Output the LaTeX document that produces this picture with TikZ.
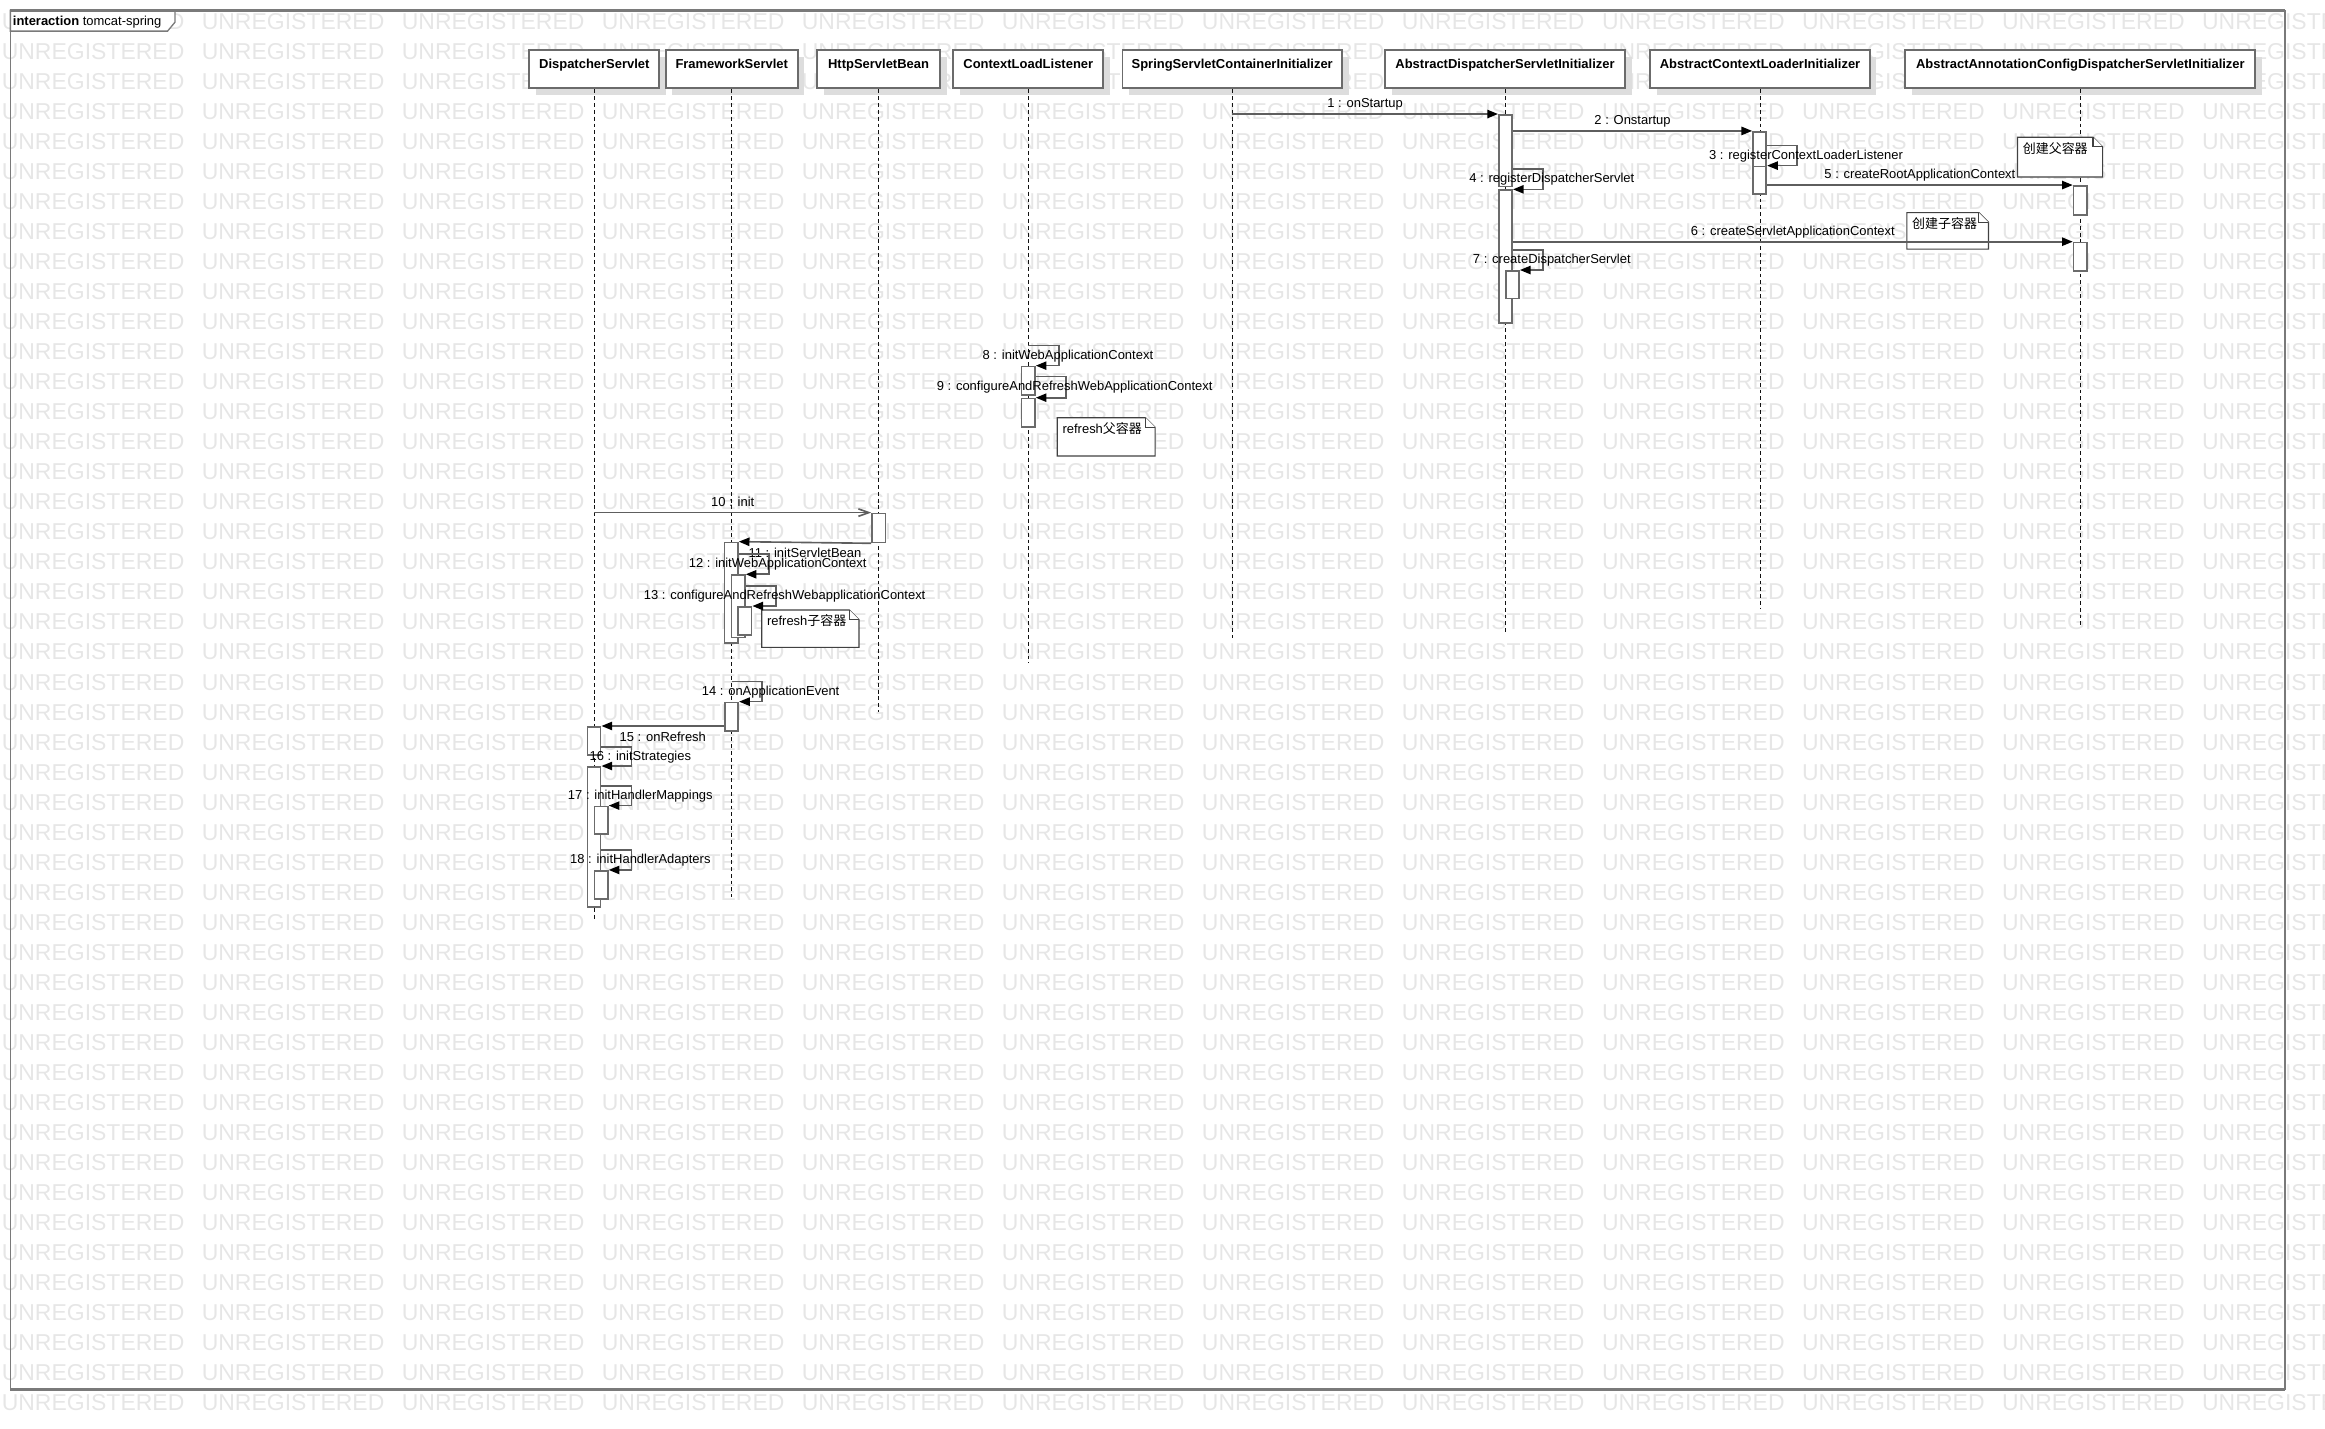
\documentclass[tikz,border=0pt]{standalone}
\usepackage{fontspec}
\setmainfont{Liberation Sans}
\newfontfamily\cjk{Noto Sans CJK SC}
\newfontfamily\wmfont{Liberation Sans}
\usetikzlibrary{arrows.meta,calc,shadows}
\definecolor{Ink}{HTML}{111111}
\definecolor{Edge}{HTML}{6B6B6B}
\definecolor{Wire}{HTML}{5E5E5E}
\definecolor{Wmark}{HTML}{E6E6E6}
\definecolor{Shade}{HTML}{DDDDDD}
\definecolor{FrameGray}{HTML}{7A7A7A}

% note with folded corner: name, x1, y1, x2, y2, text
\newcommand{\umlnote}[6]{%
  \draw[notebox] (#2,#3) -- (#4-6.5,#3) -- (#4,#3+6.5) -- (#4,#5) -- (#2,#5) -- cycle;
  \draw[notebox] (#4-6.5,#3) |- (#4,#3+6.5);
  \node[notetext] (#1) at (#2+3.4,#3+4) {#6};
}

\begin{document}
\begin{tikzpicture}[x=1pt,y=-1pt,
    headbox/.style={draw=Edge,line width=1.3pt,fill=white,
      font=\fontsize{8.75}{10.5}\selectfont\bfseries,
      minimum height=26pt,inner sep=0pt,text height=6.5pt,text depth=7.6pt,
      drop shadow={shadow xshift=4.5pt,shadow yshift=-4.5pt,fill=Shade,opacity=1}},
    lifeline/.style={Ink,line width=0.7pt,dash pattern=on 2.6pt off 2pt},
    actbox/.style={draw=Edge,line width=1.1pt,fill=white,anchor=north,
      minimum width=9pt,inner sep=0pt},
    msg/.style={Wire,line width=1.1pt,-{Triangle[length=7.2pt,width=5.6pt,color=black]}},
    asyncmsg/.style={Wire,line width=1.1pt,-{Straight Barb[length=7pt,width=5pt]}},
    msglabel/.style={font=\fontsize{8.75}{10.5}\selectfont,text=black,inner sep=2pt,
      text height=6.5pt,text depth=1.8pt},
    selflabel/.style={msglabel,xshift=6pt,yshift=-6.75pt},
    notebox/.style={draw=Ink!80,line width=0.8pt,fill=white},
    notetext/.style={msglabel,inner sep=0pt,anchor=north west},
    wmark/.style={font=\wmfont\fontsize{15.5}{15.5}\selectfont,text=Wmark,
      anchor=west,inner sep=0pt}]
  \useasboundingbox (0,0) rectangle (1568,963.7);

  % watermark
  \foreach \r in {0,...,46}
    \foreach \c in {0,...,11}
      \node[wmark] (wm-\r-\c) at (1+134.9*\c,14.5+20.25*\r) {UNREGISTERED};

  % frame
  \filldraw[fill=white,draw=FrameGray,line width=0.9pt]
    (7,7) -- (118,7) -- (118,15) -- (113,21) -- (7,21) -- cycle;
  \draw[FrameGray,line width=0.9pt] (7,7) rectangle (1541,937);
  \draw[FrameGray,line width=2pt] (7,7) -- (1541,7);
  \draw[FrameGray,line width=2pt] (7,937) -- (1541,937);
  \node[msglabel,anchor=west,inner sep=0pt] (tab) at (8.5,14.8)
    {\textbf{interaction} tomcat-spring};

  % lifelines
  \foreach \nm/\x/\w/\txt in {
    ds/400.8/87.6/DispatcherServlet,fs/493.5/89/FrameworkServlet,
    hsb/592.5/83/HttpServletBean,cll/693.5/101/ContextLoadListener,
    sci/831/148/SpringServletContainerInitializer,
    adsi/1015/162/AbstractDispatcherServletInitializer,
    acli/1187/148/AbstractContextLoaderInitializer,
    aacdsi/1403/236/AbstractAnnotationConfigDispatcherServletInitializer}
    \node[headbox,minimum width=\w pt] (\nm) at (\x,46.65) {\txt};
  \foreach \nm/\y in {ds/620.5,fs/604.7,hsb/480,cll/447,
    sci/430,adsi/427,acli/410,aacdsi/422}
  {
    \coordinate (\nm-end) at (\nm.south |- 0,\y);
    \draw[lifeline] (\nm) -- (\nm-end);
  }

  % activations
  \foreach \nm/\x/\y/\h in {
    adsi1/1015.3/76.9/48.3,adsi4/1015.3/127.7/89.7,adsi7/1020/182.1/18.7,
    acli2/1186.7/88.3/23.4,acli3/1186.7/111.7/18.6,
    aac5/1402.9/124.8/19.5,aac6/1402.9/163/19.1,
    cll8/693.5/246.6/19.1,cll9/693.5/268.2/19.1,
    hsb10/592.6/345.7/19.6,
    fs11/493.2/365.3/67.9,fs12/497.9/387.3/42.1,fs13/502.4/408.7/18.9,
    fs14/493.4/473.2/19.1,
    ds15/400.6/489.6/18.9,ds16/400.6/516.6/94.4,
    ds17/405.5/543.3/18.7,ds18/405.5/586.7/19.1}
    \node[actbox,minimum height=\h pt] (\nm) at (\x,\y) {};

  % notes
  \umlnote{parentnote}{1360.6}{92.5}{1418}{119.4}{{\cjk 创建父容器}}
  \umlnote{childnote}{1286}{143.4}{1341}{168}{{\cjk 创建子容器}}
  \umlnote{refreshparent}{713}{281.7}{779}{307.5}{refresh{\cjk 父容器}}
  \umlnote{refreshchild}{513.7}{411.4}{579.3}{436.6}{refresh{\cjk 子容器}}

  % messages
  \draw[msg] (sci.south |- adsi1.north west) -- (adsi1.north west)
    node[msglabel,above,midway] {1 : onStartup};
  \draw[msg] (adsi1.east |- acli2.north) -- (acli2.north west)
    node[msglabel,above,midway] {2 : Onstartup};
  \draw[msg] (acli2.east |- 0,98.2) -- ++(20.2,0)
    node[selflabel] {3 : registerContextLoaderListener} |- (acli3.north east);
  \draw[msg] (adsi1.east |- 0,114) -- ++(20.2,0)
    node[selflabel] {4 : registerDispatcherServlet} |- (adsi4.north east);
  \draw[msg] (acli3.east |- aac5.north) -- (aac5.north west)
    node[msglabel,above,midway] {5 : createRootApplicationContext};
  \draw[msg] (adsi4.east |- aac6.north) -- (aac6.north west)
    node[msglabel,above,midway] {6 : createServletApplicationContext};
  \draw[msg] (adsi4.east |- 0,168.6) -- ++(20.2,0)
    node[selflabel] {7 : createDispatcherServlet} |- (adsi7.north east);
  \draw[msg] (cll.south |- 0,233.1) -- ++(20.7,0)
    node[selflabel] {8 : initWebApplicationContext} |- (cll8.north east);
  \draw[msg] (cll8.east |- 0,254) -- ++(20.2,0)
    node[selflabel] {9 : configureAndRefreshWebApplicationContext} |- (cll9.north east);
  \draw[asyncmsg] (ds.south |- hsb10.north) -- (hsb10.north west)
    node[msglabel,above,midway] {10 : init};
  \draw[msg] (hsb10.south west) -- (fs11.north east)
    node[msglabel,below,midway,yshift=-1.3pt] {11 : initServletBean};
  \draw[msg] (fs11.east |- 0,373.6) -- ++(20.2,0)
    node[selflabel] {12 : initWebApplicationContext} |- (fs12.north east);
  \draw[msg] (fs12.east |- 0,395.2) -- ++(20.2,0)
    node[selflabel] {13 : configureAndRefreshWebapplicationContext} |- (fs13.north east);
  \draw[msg] (fs.south |- 0,459.7) -- ++(20.2,0)
    node[selflabel] {14 : onApplicationEvent} |- (fs14.north east);
  \draw[msg] (fs14.west |- ds15.north) -- (ds15.north east)
    node[msglabel,below,midway,yshift=-1.2pt] {15 : onRefresh};
  \draw[msg] (ds15.east |- 0,503.6) -- ++(20.2,0)
    node[selflabel] {16 : initStrategies} |- (ds16.north east);
  \draw[msg] (ds16.east |- 0,530.1) -- ++(20.2,0)
    node[selflabel] {17 : initHandlerMappings} |- (ds17.north east);
  \draw[msg] (ds16.east |- 0,573.2) -- ++(20.2,0)
    node[selflabel] {18 : initHandlerAdapters} |- (ds18.north east);
\end{tikzpicture}
\end{document}
